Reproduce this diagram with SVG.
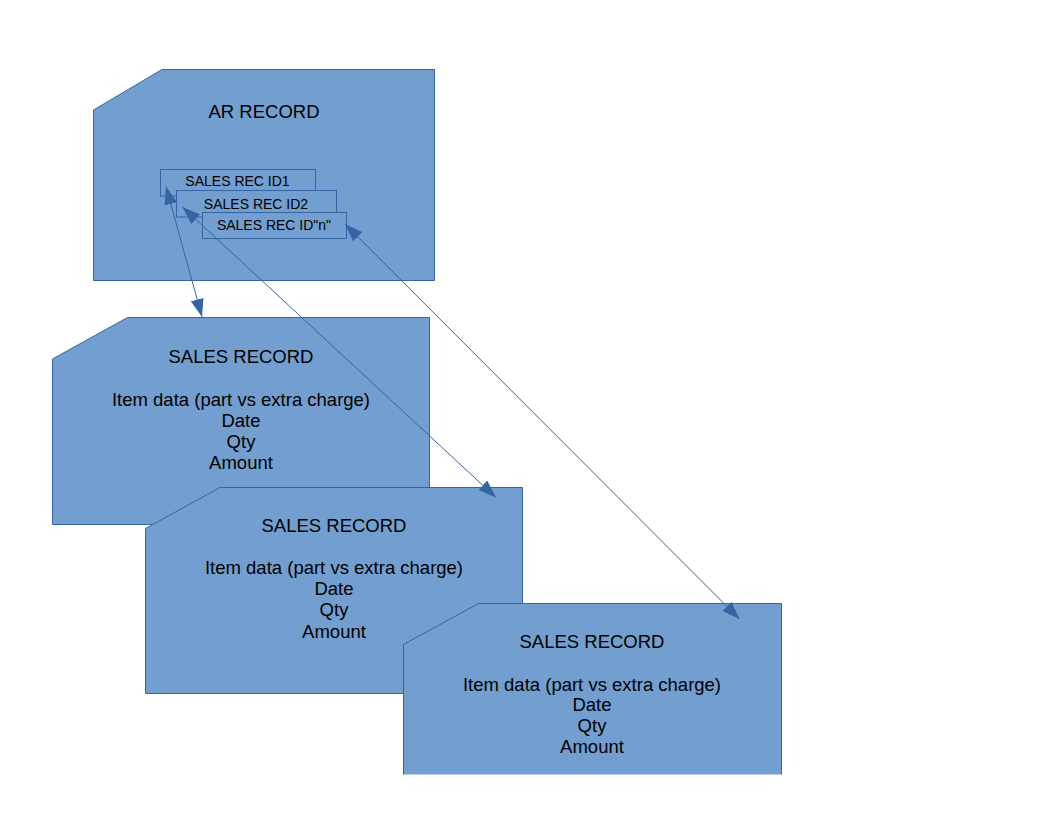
<svg xmlns="http://www.w3.org/2000/svg" width="1056" height="816" viewBox="0 0 1056 816">
<defs>
<style>
.shape{fill:#729fcf;stroke:#3465a4;stroke-width:1}
.fillonly{fill:#729fcf;stroke:none}
.edge{fill:none;stroke:#3465a4;stroke-width:1}
.t{font-family:"Liberation Sans",Arial,sans-serif;font-size:18.5px;fill:#000;text-anchor:middle}
.ts{font-family:"Liberation Sans",Arial,sans-serif;font-size:14px;fill:#000;text-anchor:middle}
.conn{fill:none;stroke:#3465a4;stroke-width:1;marker-start:url(#ah);marker-end:url(#ah)}
</style>
<marker id="ah" viewBox="0 0 18 13" refX="18" refY="6.5" markerWidth="18" markerHeight="13" markerUnits="userSpaceOnUse" orient="auto-start-reverse">
<path d="M0,0 L18,6.5 L0,13 Z" fill="#3465a4"/>
</marker>
</defs>
<rect width="1056" height="816" fill="#ffffff"/>
<g id="ar-record">
<polygon class="shape" points="162,69.5 434.5,69.5 434.5,280.5 93.5,280.5 93.5,110"/>
<text class="t" x="264" y="117.5">AR RECORD</text>
</g>
<g id="sales-rec-id1">
<rect class="shape" x="160.5" y="169.5" width="155" height="26.5"/>
<text class="ts" x="237.5" y="186">SALES REC ID1</text>
</g>
<g id="sales-rec-id2">
<rect class="shape" x="176.5" y="190.5" width="160" height="26.5"/>
<text class="ts" x="256" y="208.5">SALES REC ID2</text>
</g>
<g id="sales-rec-idn">
<rect class="shape" x="202.5" y="212.5" width="144" height="26"/>
<text class="ts" x="274" y="230.3">SALES REC ID"n"</text>
</g>
<g id="sales-record-1">
<polygon class="shape" points="127.5,317.5 429.5,317.5 429.5,524.5 52.5,524.5 52.5,359"/>
<text class="t" x="241" y="363.3">SALES RECORD</text>
<text class="t" x="241" y="406">Item data (part vs extra charge)</text>
<text class="t" x="241" y="426.7">Date</text>
<text class="t" x="241" y="447.5">Qty</text>
<text class="t" x="241" y="469.3">Amount</text>
</g>
<g id="sales-record-2">
<polygon class="shape" points="220,487.5 522.5,487.5 522.5,693.5 145.5,693.5 145.5,528.5"/>
<text class="t" x="334" y="531.5">SALES RECORD</text>
<text class="t" x="334" y="574">Item data (part vs extra charge)</text>
<text class="t" x="334" y="595">Date</text>
<text class="t" x="334" y="616">Qty</text>
<text class="t" x="334" y="637.5">Amount</text>
</g>
<g id="sales-record-3">
<polygon class="fillonly" points="478.5,603.5 781.5,603.5 781.5,774.5 403.5,774.5 403.5,644.5"/>
<polyline class="edge" points="403.5,774.5 403.5,644.5 478.5,603.5 781.5,603.5 781.5,774.5"/>
<text class="t" x="592" y="648.3">SALES RECORD</text>
<text class="t" x="592" y="690.7">Item data (part vs extra charge)</text>
<text class="t" x="592" y="711">Date</text>
<text class="t" x="592" y="731.7">Qty</text>
<text class="t" x="592" y="752.7">Amount</text>
</g>
<g id="connectors">
<line class="conn" x1="166" y1="186.5" x2="202" y2="317"/>
<line class="conn" x1="182.5" y1="207" x2="496" y2="497.5"/>
<line class="conn" x1="345" y1="224" x2="739.5" y2="619"/>
</g>
</svg>
